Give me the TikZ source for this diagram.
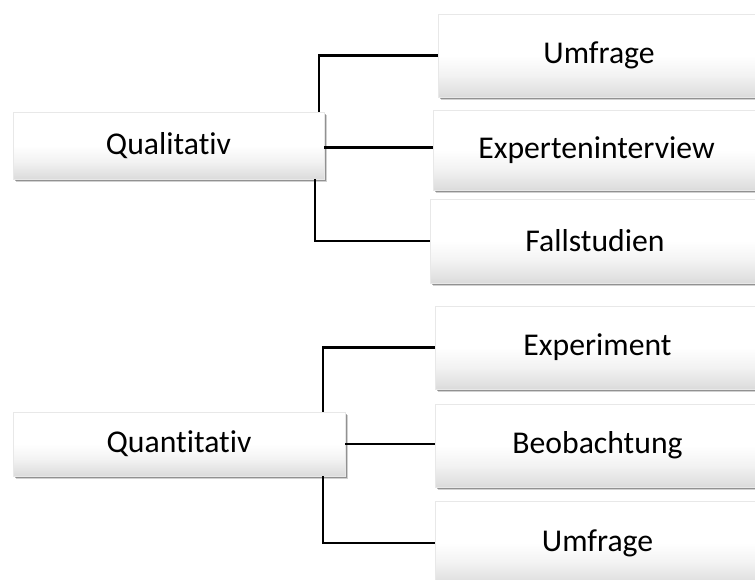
\documentclass[tikz,border=0pt]{standalone}
\usepackage{fontspec}
\setmainfont{Carlito}[Ligatures={NoCommon}]
\usetikzlibrary{shadows}
\pgfdeclareverticalshading{boxshade}{100bp}{color(0bp)=(black!14); color(25bp)=(black!14); color(38bp)=(black!5); color(50bp)=(white); color(100bp)=(white)}
\begin{document}
\begin{tikzpicture}[x=1pt,y=1pt,
  box/.style={rectangle, inner sep=0pt, anchor=center,
    shade, shading=boxshade, draw=black!9, line width=0.5pt,
    drop shadow={shadow xshift=2.5pt, shadow yshift=-3.5pt, opacity=0.18, fill=black, draw=none},
    drop shadow={shadow xshift=1.5pt, shadow yshift=-2pt, opacity=0.3, fill=black, draw=none},
    font=\fontsize{31.7}{38}\selectfont},
  conn/.style={draw=black, line width=2.3pt}]
\fill[white] (0,0) rectangle (755,580);
\useasboundingbox (0,0) rectangle (755,580);
% left boxes
\node[box, minimum width=311pt, minimum height=67pt] (q) at (168.5,434.5) {Qualitativ};
\node[box, minimum width=332pt, minimum height=64pt] (qn) at (179,136) {Quantitativ};
% right boxes, top group
\node[box, minimum width=322pt, minimum height=83pt] (u1) at (599,524.5) {Umfrage};
\node[box, minimum width=327pt, minimum height=80pt] (ex) at (596.5,430) {Experteninterview};
\node[box, minimum width=330pt, minimum height=84pt] (fa) at (595,339) {Fallstudien};
% right boxes, bottom group
\node[box, minimum width=325pt, minimum height=83pt] (xp) at (597.5,232.5) {Experiment};
\node[box, minimum width=325pt, minimum height=83pt] (be) at (597.5,134.5) {Beobachtung};
\node[box, minimum width=325pt, minimum height=84pt] (u2) at (597.5,37) {Umfrage};
% connectors
\draw[conn] ([xshift=-5pt]q.north east) |- (u1.west);
\draw[conn] ([yshift=-2pt]q.east) -- ([yshift=-2pt]q.east -| ex.west);
\draw[conn] ([xshift=-9pt]q.south east) |- (fa.west);
\draw[conn] ([xshift=-22pt]qn.north east) |- (xp.west);
\draw[conn] (qn.east) -- (qn.east -| be.west);
\draw[conn] ([xshift=-22pt]qn.south east) |- (u2.west);
\end{tikzpicture}
\end{document}
